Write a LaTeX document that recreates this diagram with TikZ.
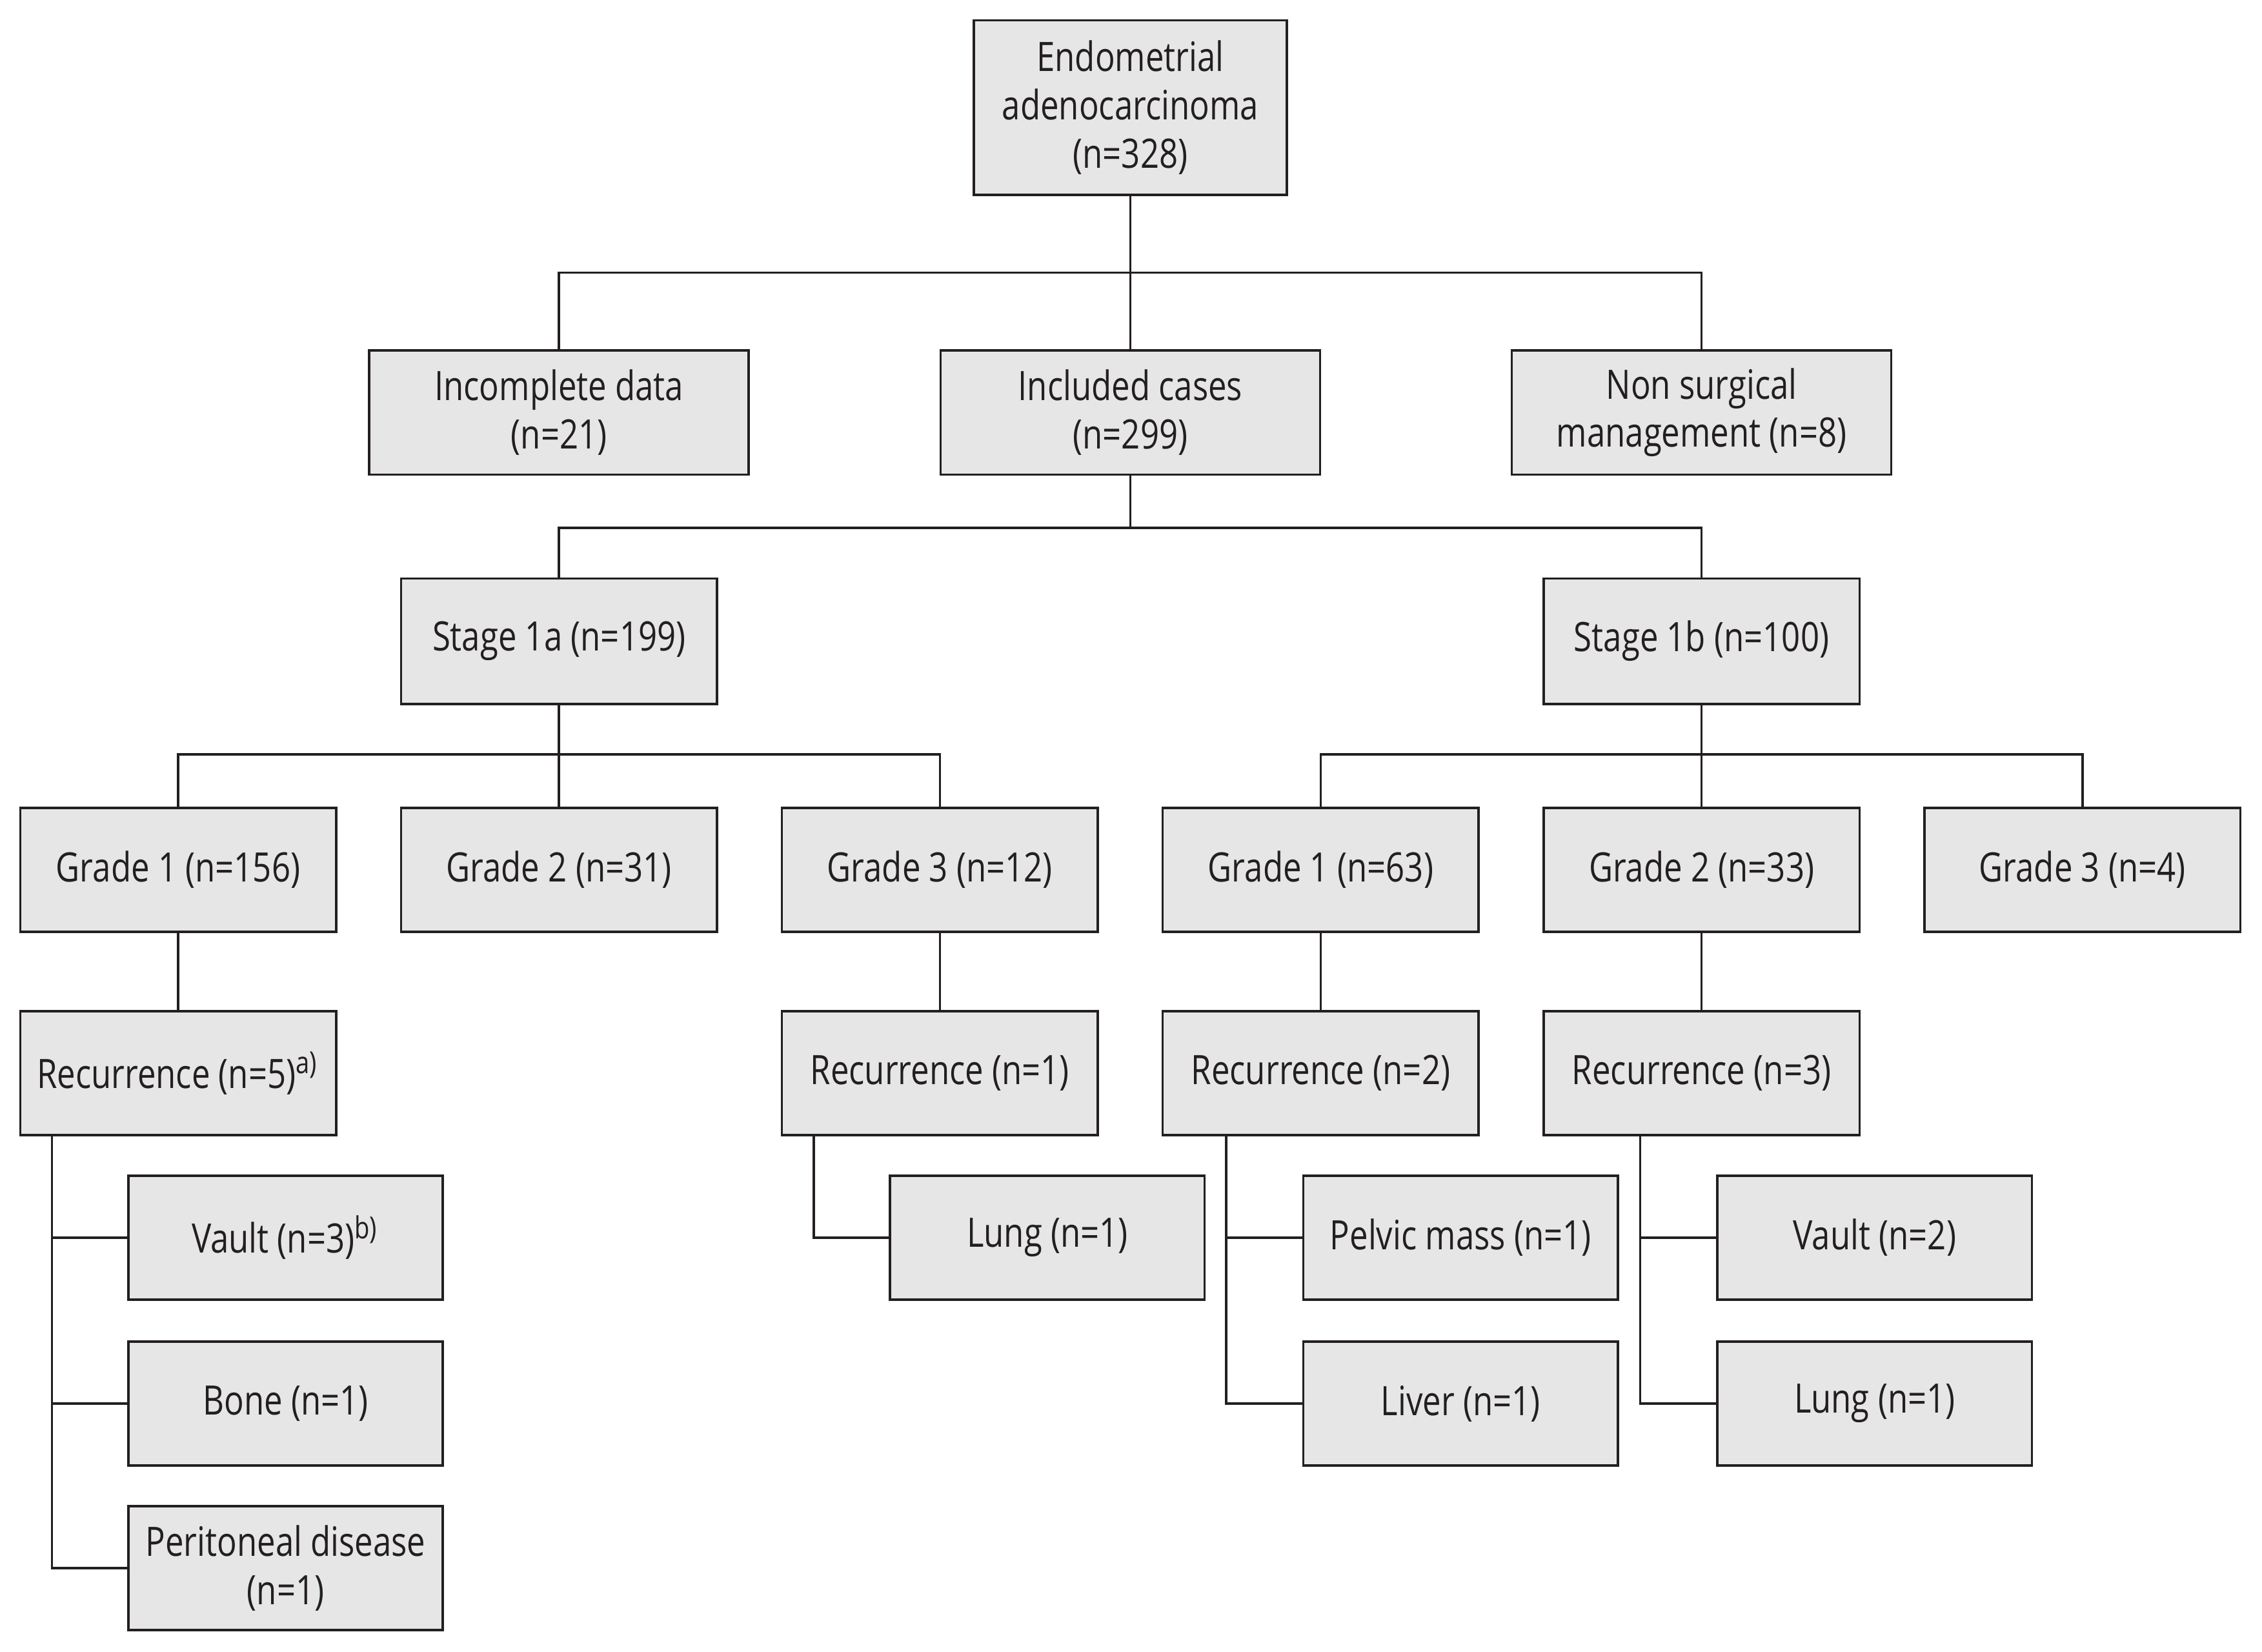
\documentclass[tikz,border=0pt]{standalone}
\usepackage{fontspec}
\setmainfont[FakeStretch=0.81]{Open Sans}
\usepackage{xcolor}
\usepackage{tikz}
\usetikzlibrary{positioning,calc}
\definecolor{ink}{HTML}{231F20}
\definecolor{boxgray}{HTML}{E6E6E6}
\tikzset{
  box/.style   ={draw=ink,fill=boxgray,line width=0.45pt,text=ink,align=center,inner sep=0pt,
                 font=\fontsize{8}{9.5}\selectfont},
  wide/.style  ={box,minimum width=2.63cm,minimum height=0.86cm},
  grade/.style ={box,minimum width=2.19cm,minimum height=0.86cm},
  site/.style  ={box,minimum width=2.18cm,minimum height=0.86cm},
  link/.style  ={draw=ink,line width=0.45pt},
}

\begin{document}
\begin{tikzpicture}
  \useasboundingbox (0,0) rectangle (15.68,-11.45);
  % root and first split
  \node[box,minimum width=2.17cm,minimum height=1.21cm] (root) at (7.835,-0.745)
       {Endometrial\\adenocarcinoma\\(n=328)};
  \node[wide] (incomp)  at (3.875,-2.86)  {Incomplete data\\(n=21)};
  \node[wide] (incl)    at (7.835,-2.86)  {Included cases\\(n=299)};
  \node[wide] (nonsurg) at (11.795,-2.86) {Non surgical\\management (n=8)};
  \coordinate (bus1) at (7.835,-1.89);
  \draw[link] (incomp.north) |- (bus1) -| (nonsurg.north);
  \draw[link] (root.south) -- (incl.north);
  % stages
  \node[grade,minimum height=0.87cm] (st1a) at (3.875,-4.445)  {Stage 1a (n=199)};
  \node[grade,minimum height=0.87cm] (st1b) at (11.795,-4.445) {Stage 1b (n=100)};
  \coordinate (bus2) at (7.835,-3.66);
  \draw[link] (incl.south) -- (bus2);
  \draw[link] (st1a.north) |- (bus2) -| (st1b.north);
  % grades under each stage
  \foreach \x/\name/\txt in {1.235/gA1/{Grade 1 (n=156)}, 3.875/gA2/{Grade 2 (n=31)},
      6.515/gA3/{Grade 3 (n=12)}, 9.155/gB1/{Grade 1 (n=63)},
      11.795/gB2/{Grade 2 (n=33)}, 14.435/gB3/{Grade 3 (n=4)}}
    \node[grade] (\name) at (\x,-6.03) {\txt};
  \coordinate (bus3) at (0,-5.23);
  \draw[link] (gA1.north) |- (bus3 -| st1a) -| (gA3.north);
  \draw[link] (st1a.south) -- (gA2.north);
  \draw[link] (gB1.north) |- (bus3 -| st1b) -| (gB3.north);
  \draw[link] (st1b.south) -- (gB2.north);
  % recurrences
  \foreach \x/\name/\up/\txt in {1.235/recA1/gA1/{Recurrence (n=5)\textsuperscript{a)}},
      6.515/recA3/gA3/{Recurrence (n=1)}, 9.155/recB1/gB1/{Recurrence (n=2)},
      11.795/recB2/gB2/{Recurrence (n=3)}}{
    \node[grade] (\name) at (\x,-7.44) {\txt};
    \draw[link] (\up.south) -- (\name.north);
  }
  % sites of recurrence
  \node[site] (vaultA) at (1.98,-8.58)   {Vault (n=3)\textsuperscript{b)}};
  \node[site] (boneA)  at (1.98,-9.73)   {Bone (n=1)};
  \node[site] (periA)  at (1.98,-10.87)  {Peritoneal disease\\(n=1)};
  \node[site] (lungA)  at (7.26,-8.58)   {Lung (n=1)};
  \node[site] (pelvB)  at (10.125,-8.58) {Pelvic mass (n=1)};
  \node[site] (liverB) at (10.125,-9.73) {Liver (n=1)};
  \node[site] (vaultB) at (12.995,-8.58) {Vault (n=2)};
  \node[site] (lungB)  at (12.995,-9.73) {Lung (n=1)};
  % spines from recurrence boxes
  \coordinate (spA1) at (0.36,-7.87);
  \coordinate (spA3) at (5.64,-7.87);
  \coordinate (spB1) at (8.50,-7.87);
  \coordinate (spB2) at (11.37,-7.87);
  \foreach \leaf in {vaultA,boneA,periA} \draw[link] (spA1) |- (\leaf.west);
  \draw[link] (spA3) |- (lungA.west);
  \foreach \leaf in {pelvB,liverB} \draw[link] (spB1) |- (\leaf.west);
  \foreach \leaf in {vaultB,lungB} \draw[link] (spB2) |- (\leaf.west);
\end{tikzpicture}
\end{document}
